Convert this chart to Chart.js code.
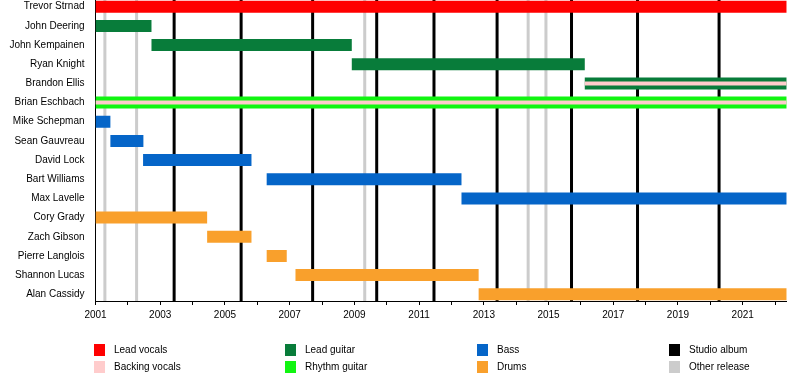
<!DOCTYPE html>
<html>
<head>
<meta charset="utf-8">
<script src="https://cdn.jsdelivr.net/npm/chart.js@4.4.1/dist/chart.umd.min.js"></script>
<style>
    body { margin: 0; background: #fff; }
    #wrap { position: relative; width: 800px; height: 380px; font-family: "Liberation Sans", Arial, sans-serif; font-size: 10px; color: #000; }
    #chart { position: absolute; left: 0; top: 0; }
    .key { position: absolute; width: 11px; height: 12px; }
    .lbl { position: absolute; line-height: 12px; white-space: nowrap; }
</style>
</head>
<body>
<div id="wrap">
    <canvas id="chart" width="800" height="380"></canvas>
    <div id="legend"></div>
</div>
<script>
// Miembros, de arriba hacia abajo
const members = [
    'Trevor Strnad', 'John Deering', 'John Kempainen', 'Ryan Knight', 'Brandon Ellis',
    'Brian Eschbach', 'Mike Schepman', 'Sean Gauvreau', 'David Lock', 'Bart Williams',
    'Max Lavelle', 'Cory Grady', 'Zach Gibson', 'Pierre Langlois', 'Shannon Lucas', 'Alan Cassidy'
];

// Periodos de cada miembro (años decimales)
const periodMember = [0, 1, 2, 3, 4, 5, 6, 7, 8, 9, 10, 11, 12, 13, 14, 15];
const periodRole = [
    'Lead vocals', 'Lead guitar', 'Lead guitar', 'Lead guitar', 'Lead guitar',
    'Rhythm guitar', 'Bass', 'Bass', 'Bass', 'Bass', 'Bass',
    'Drums', 'Drums', 'Drums', 'Drums', 'Drums'
];
const periodStart = [2001, 2001, 2002.73, 2008.92, 2016.12, 2001, 2001, 2001.46, 2002.47, 2006.29, 2012.31, 2001, 2004.45, 2006.29, 2007.18, 2012.84];
const periodEnd = [2022.36, 2002.73, 2008.92, 2016.12, 2022.36, 2022.36, 2001.46, 2002.48, 2005.82, 2012.31, 2022.36, 2004.45, 2005.82, 2006.91, 2012.84, 2022.36];

// Coros (franja fina)
const backingMember = [4, 5];
const backingStart = [2016.12, 2001];
const backingEnd = [2022.36, 2022.36];

// Lanzamientos
const studioAlbums = [2003.43, 2005.5, 2007.71, 2009.69, 2011.46, 2013.41, 2015.71, 2017.75, 2020.27];
const otherReleases = [2001.29, 2002.27, 2009.32, 2014.37, 2014.92];

// Eje de años
const yearTicks = [2001, 2002, 2003, 2004, 2005, 2006, 2007, 2008, 2009, 2010, 2011, 2012, 2013, 2014, 2015, 2016, 2017, 2018, 2019, 2020, 2021, 2022];
const yearLabels = [2001, 2003, 2005, 2007, 2009, 2011, 2013, 2015, 2017, 2019, 2021];

const legendOrder = [
    ['Lead vocals', 'Backing vocals'],
    ['Lead guitar', 'Rhythm guitar'],
    ['Bass', 'Drums'],
    ['Studio album', 'Other release']
];

const colores = {
    'Lead vocals': '#ff0000',
    'Backing vocals': '#ffcccc',
    'Lead guitar': '#087c3a',
    'Rhythm guitar': '#11f511',
    'Bass': '#0565c8',
    'Drums': '#f9a02c',
    'Studio album': '#000000',
    'Other release': '#cccccc'
};

function crearDatasets() {
    const roles = ['Lead vocals', 'Lead guitar', 'Rhythm guitar', 'Bass', 'Drums'];
    const datasets = roles.map(role => ({
        label: role,
        data: periodRole
            .map((r, i) => r === role ? { x: [periodStart[i], periodEnd[i]], y: periodMember[i] } : null)
            .filter(Boolean),
        backgroundColor: colores[role],
        borderWidth: 0,
        grouped: false,
        maxBarThickness: 12,
        order: 1
    }));
    datasets.push({
        label: 'Backing vocals',
        data: backingMember.map((m, i) => ({ x: [backingStart[i], backingEnd[i]], y: m })),
        backgroundColor: colores['Backing vocals'],
        borderWidth: 0,
        grouped: false,
        maxBarThickness: 4,
        order: 0
    });
    return datasets;
}

// Líneas verticales de álbumes, detrás de las barras
const lineasAlbum = {
    id: 'lineasAlbum',
    beforeDatasetsDraw(chart) {
        const { ctx, chartArea, scales } = chart;
        const dibujar = (valores, color) => {
            ctx.save();
            ctx.strokeStyle = color;
            ctx.lineWidth = 3;
            valores.forEach(v => {
                const x = scales.x.getPixelForValue(v);
                ctx.beginPath();
                ctx.moveTo(x, chartArea.top);
                ctx.lineTo(x, chartArea.bottom);
                ctx.stroke();
            });
            ctx.restore();
        };
        dibujar(otherReleases, colores['Other release']);
        dibujar(studioAlbums, colores['Studio album']);
    }
};

function crearLeyenda() {
    const cont = document.getElementById('legend');
    const colX = [94, 285, 477, 669];
    const rowY = [344, 361];
    let html = '';
    legendOrder.forEach((col, c) => {
        col.forEach((item, r) => {
            html += `<div class="key" style="left:${colX[c]}px;top:${rowY[r]}px;background:${colores[item]}"></div>`;
            html += `<div class="lbl" style="left:${colX[c] + 20}px;top:${rowY[r]}px">${item}</div>`;
        });
    });
    cont.innerHTML = html;
}

Chart.defaults.font.family = '"Liberation Sans", Arial, sans-serif';
Chart.defaults.font.size = 10;
Chart.defaults.color = '#000';

new Chart(document.getElementById('chart').getContext('2d'), {
    type: 'bar',
    data: { datasets: crearDatasets() },
    options: {
        responsive: false,
        animation: false,
        indexAxis: 'y',
        layout: { padding: { left: 0, right: 13.3, top: 0, bottom: 0 } },
        plugins: {
            legend: { display: false },
            tooltip: { enabled: false }
        },
        scales: {
            x: {
                type: 'linear',
                position: 'bottom',
                min: 2001,
                max: 2022.36,
                afterBuildTicks: s => { s.ticks = yearTicks.map(v => ({ value: v })); },
                afterFit: s => { s.height = 79; s.paddingLeft = 0; s.paddingRight = 0; },
                grid: { drawOnChartArea: false, drawTicks: true, tickLength: 4, color: '#000' },
                border: { display: true, color: '#000', width: 1 },
                ticks: {
                    autoSkip: false,
                    maxRotation: 0,
                    padding: 4,
                    callback: v => yearLabels.includes(v) ? String(v) : ''
                }
            },
            y: {
                type: 'linear',
                offset: false,
                reverse: true,
                min: -0.35,
                max: 15.35,
                afterBuildTicks: s => { s.ticks = members.map((m, i) => ({ value: i })); },
                afterFit: s => { s.width = 95.5; s.paddingTop = 0; s.paddingBottom = 0; },
                grid: { display: false, drawTicks: false },
                border: { display: true, color: '#000', width: 1 },
                ticks: {
                    autoSkip: false,
                    padding: 11,
                    callback: v => members[v]
                }
            }
        }
    },
    plugins: [lineasAlbum]
});

crearLeyenda();
</script>
</body>
</html>
